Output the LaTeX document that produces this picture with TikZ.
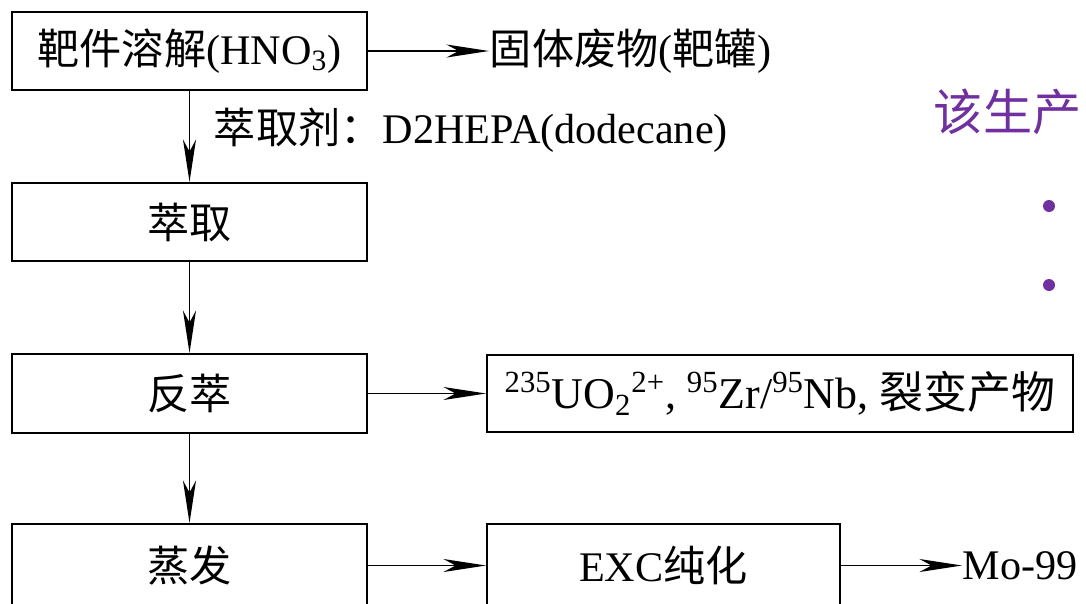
\documentclass[tikz,border=0pt]{standalone}
\usepackage{fontspec}
\setmainfont{Liberation Serif}
\newfontfamily\cjk{Noto Sans CJK SC}
\usetikzlibrary{arrows.meta}
\definecolor{slidepurple}{RGB}{112,48,160}

\begin{document}
\begin{tikzpicture}[line width=1.1pt,font=\fontsize{24}{28}\selectfont,
  box/.style={draw,minimum width=7.1cm,minimum height=1.56cm,inner sep=0pt},
  tag/.style={anchor=west,inner sep=0pt},
  flow/.style={-{Stealth[length=8.5mm,width=2.6mm,inset=2.4mm]}}]
\useasboundingbox (0,0) rectangle (21.72,-12.06);
% main column
\node[box] (diss) at (3.79,-1.02) {{\cjk 靶件溶解}(HNO\textsubscript{3})};
\node[box] (extr) at (3.79,-4.44) {\cjk 萃取};
\node[box,minimum height=1.58cm] (strip) at (3.79,-7.87) {\cjk 反萃};
\node[box,minimum height=1.66cm] (evap) at (3.79,-11.31) {\cjk 蒸发};
% side products
\node[tag] (waste) at (9.78,-1.02) {{\cjk 固体废物}({\cjk 靶罐})};
\node[tag] (agent) at (4.26,-2.6) {{\cjk 萃取剂：}D2HEPA(dodecane)};
\node[box,minimum width=11.72cm,minimum height=1.54cm] (fiss) at (15.6,-7.87)
  {\fontsize{25}{28}\selectfont\textsuperscript{235}UO\textsubscript{2}\textsuperscript{2+}, \textsuperscript{95}Zr/\textsuperscript{95}Nb, {\cjk 裂变产物}};
\node[box,minimum width=7.06cm,minimum height=1.66cm] (exc) at (13.27,-11.31) {EXC{\cjk 纯化}};
\node[tag] (mo) at (19.24,-11.31) {Mo-99};
\draw[flow] (diss.east)--(waste.west);
\draw[flow] (diss)--(extr);
\draw[flow] (extr)--(strip);
\draw[flow] (strip)--(evap);
\draw[flow] (strip.east)--(fiss.west);
\draw[flow] (evap.east)--(exc.west);
\draw[flow] (exc.east)--(exc.east-|mo.west);
% slide remnant
\node[tag,text=slidepurple,font=\cjk\fontsize{28}{32}\selectfont] (slide) at (18.66,-2.24) {该生产};
\fill[slidepurple] (20.98,-4.12) circle (0.12) (20.98,-5.7) circle (0.12);
\end{tikzpicture}
\end{document}
